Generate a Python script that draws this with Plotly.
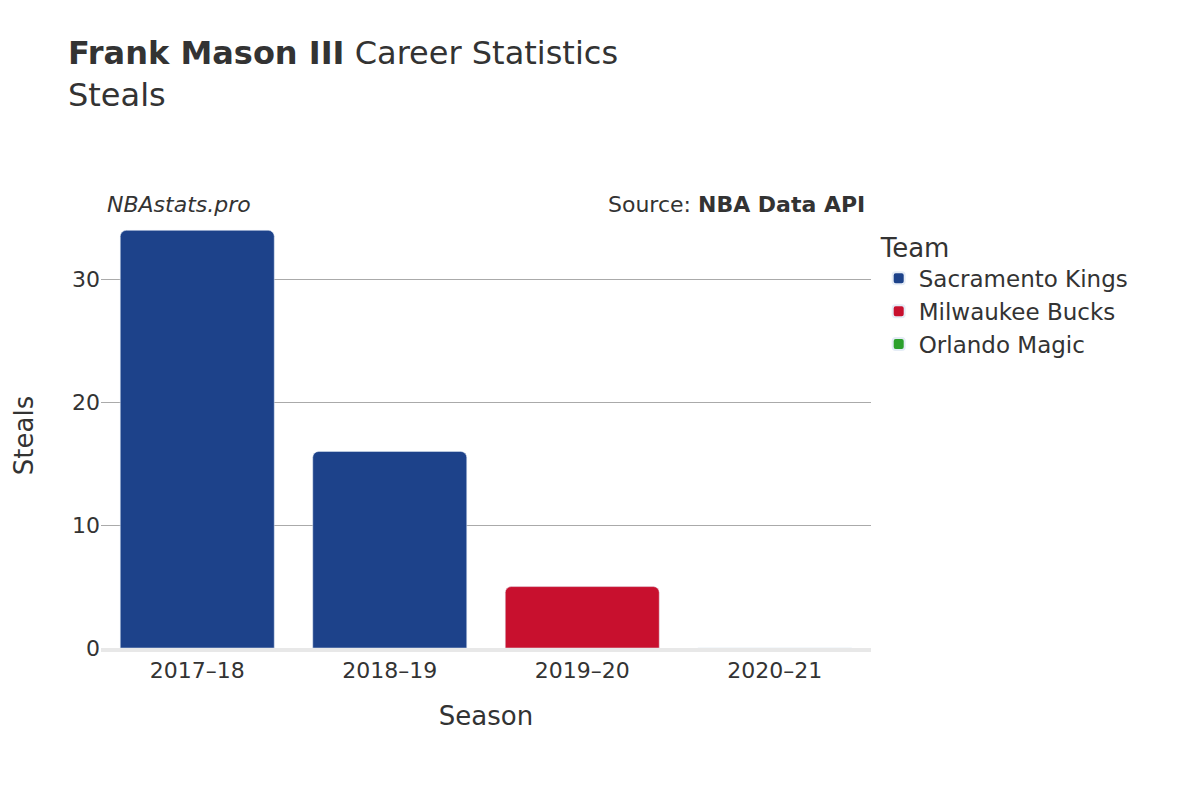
import plotly.graph_objects as go

seasons = ["2017–18", "2018–19", "2019–20", "2020–21"]
teams = ["Sacramento Kings", "Sacramento Kings", "Milwaukee Bucks", "Orlando Magic"]
steals = [34, 16, 5, 0]
team_order = ["Sacramento Kings", "Milwaukee Bucks", "Orlando Magic"]
colors = {"Sacramento Kings": "#1d428a", "Milwaukee Bucks": "#c8102e", "Orlando Magic": "#2ca02c"}

fig = go.Figure()
for t in team_order:
    xs = [s for s, tt in zip(seasons, teams) if tt == t]
    ys = [v for v, tt in zip(steals, teams) if tt == t]
    fig.add_trace(go.Bar(x=xs, y=ys, name=t, marker_color=colors[t]))

fig.update_layout(
    width=1200, height=800,
    font=dict(family="DejaVu Sans", size=22, color="#333"),
    paper_bgcolor="white", plot_bgcolor="white",
    barmode="overlay", bargap=0.2, barcornerradius=6,
    title=dict(text="<b>Frank Mason III</b> Career Statistics<br>Steals", x=0.05, y=0.93,
               yanchor="top", font=dict(size=32)),
    margin=dict(l=93, r=337, t=215, b=160),
    legend=dict(title=dict(text="Team", font=dict(size=26)), x=1.01, y=1.0, yanchor="top",
                font=dict(size=23), itemsizing="constant"),
    xaxis=dict(title=dict(text="Season", font=dict(size=26), standoff=25), categoryorder="array",
               categoryarray=seasons, showline=True, linecolor="#e8e8e8", linewidth=4),
    yaxis=dict(title=dict(text="Steals", font=dict(size=26), standoff=30), range=[0, 34.6], dtick=10,
               showgrid=True, gridcolor="#aaa", zeroline=False),
    annotations=[
        dict(text="<i>NBAstats.pro</i>", xref="paper", yref="paper", x=0.005, y=1.01,
             xanchor="left", yanchor="bottom", showarrow=False, font=dict(size=22)),
        dict(text="Source: <b>NBA Data API</b>", xref="paper", yref="paper", x=0.995, y=1.01,
             xanchor="right", yanchor="bottom", showarrow=False, font=dict(size=22)),
    ],
)
fig.write_html("out.html")
